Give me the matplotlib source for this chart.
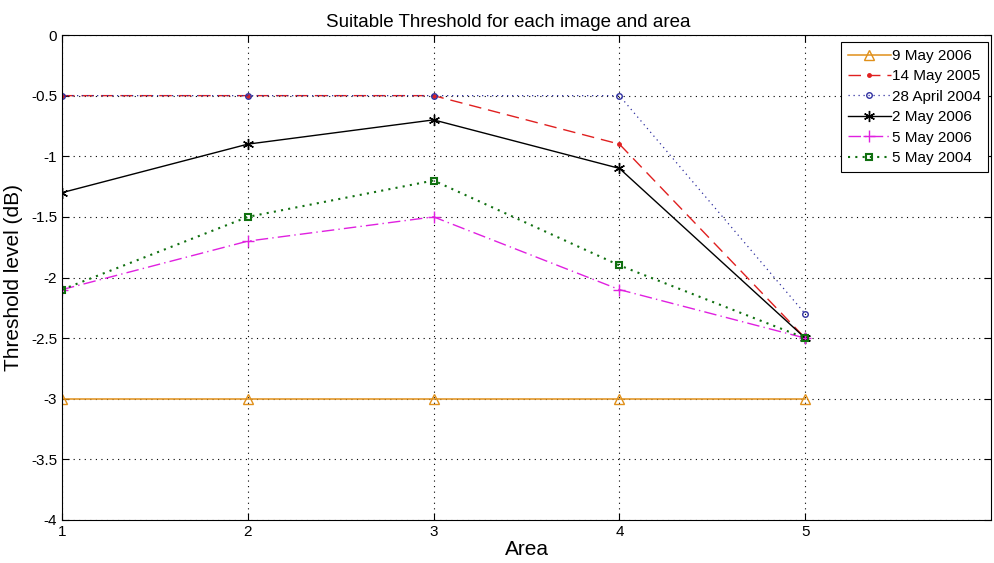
import matplotlib.pyplot as plt

plt.rcParams['font.family'] = ['Liberation Sans', 'DejaVu Sans']

areas = [1, 2, 3, 4, 5]
may9_2006 = [-3, -3, -3, -3, -3]
may14_2005 = [-0.5, -0.5, -0.5, -0.9, -2.5]
apr28_2004 = [-0.5, -0.5, -0.5, -0.5, -2.3]
may2_2006 = [-1.3, -0.9, -0.7, -1.1, -2.5]
may5_2006 = [-2.1, -1.7, -1.5, -2.1, -2.5]
may5_2004 = [-2.1, -1.5, -1.2, -1.9, -2.5]

fig = plt.figure(figsize=(9.94, 5.63), dpi=100)
ax = fig.add_axes([0.0624, 0.0764, 0.9346, 0.8614])

ax.plot(areas, may9_2006, color='#E0901A', lw=1.1, marker='^', ms=6.5,
        mfc='none', mec='#E0901A', label='9 May 2006')
ax.plot(areas, may14_2005, color='#E02020', lw=1.0, ls=(0, (9, 5)), marker='.',
        ms=5, label='14 May 2005')
ax.plot(areas, apr28_2004, color='#3030A0', lw=0.9, ls=(0, (1, 3)), marker='o',
        ms=4, mfc='none', label='28 April 2004')
ax.plot(areas, may2_2006, color='black', lw=1.0, marker=(6, 2, 0), ms=8,
        label='2 May 2006')
ax.plot(areas, may5_2006, color='#E020E0', lw=1.0, ls=(0, (9, 3, 1, 3)),
        marker='+', ms=8, label='5 May 2006')
ax.plot(areas, may5_2004, color='#107010', lw=1.5, ls=(0, (1, 2.5)), marker='s',
        ms=4.5, mfc='none', mew=1.5, label='5 May 2004')

ax.set_xlim(1, 6)
ax.set_ylim(-4, 0)
ax.set_xticks(areas)
ax.set_yticks([0, -0.5, -1, -1.5, -2, -2.5, -3, -3.5, -4])
ax.set_yticklabels(['0', '-0.5', '-1', '-1.5', '-2', '-2.5', '-3', '-3.5', '-4'])
ax.tick_params(direction='in', labelsize=11, length=5, top=True, right=True)
ax.grid(True, color='black', ls=(0, (1, 4)), lw=0.8)

ax.set_title('Suitable Threshold for each image and area', fontsize=13.5, x=0.48, pad=6)
ax.set_xlabel('Area', fontsize=15, labelpad=1)
ax.set_ylabel('Threshold level (dB)', fontsize=15, labelpad=6)

leg = ax.legend(loc='upper right', bbox_to_anchor=(988 / 994, 1 - 42 / 563),
                bbox_transform=fig.transFigure, borderaxespad=0, fontsize=11,
                fancybox=False, framealpha=1, edgecolor='black',
                handlelength=2.8, handletextpad=0.1, labelspacing=0.42,
                borderpad=0.45)
leg.get_frame().set_linewidth(0.8)

fig.savefig('out.png', dpi=100)
